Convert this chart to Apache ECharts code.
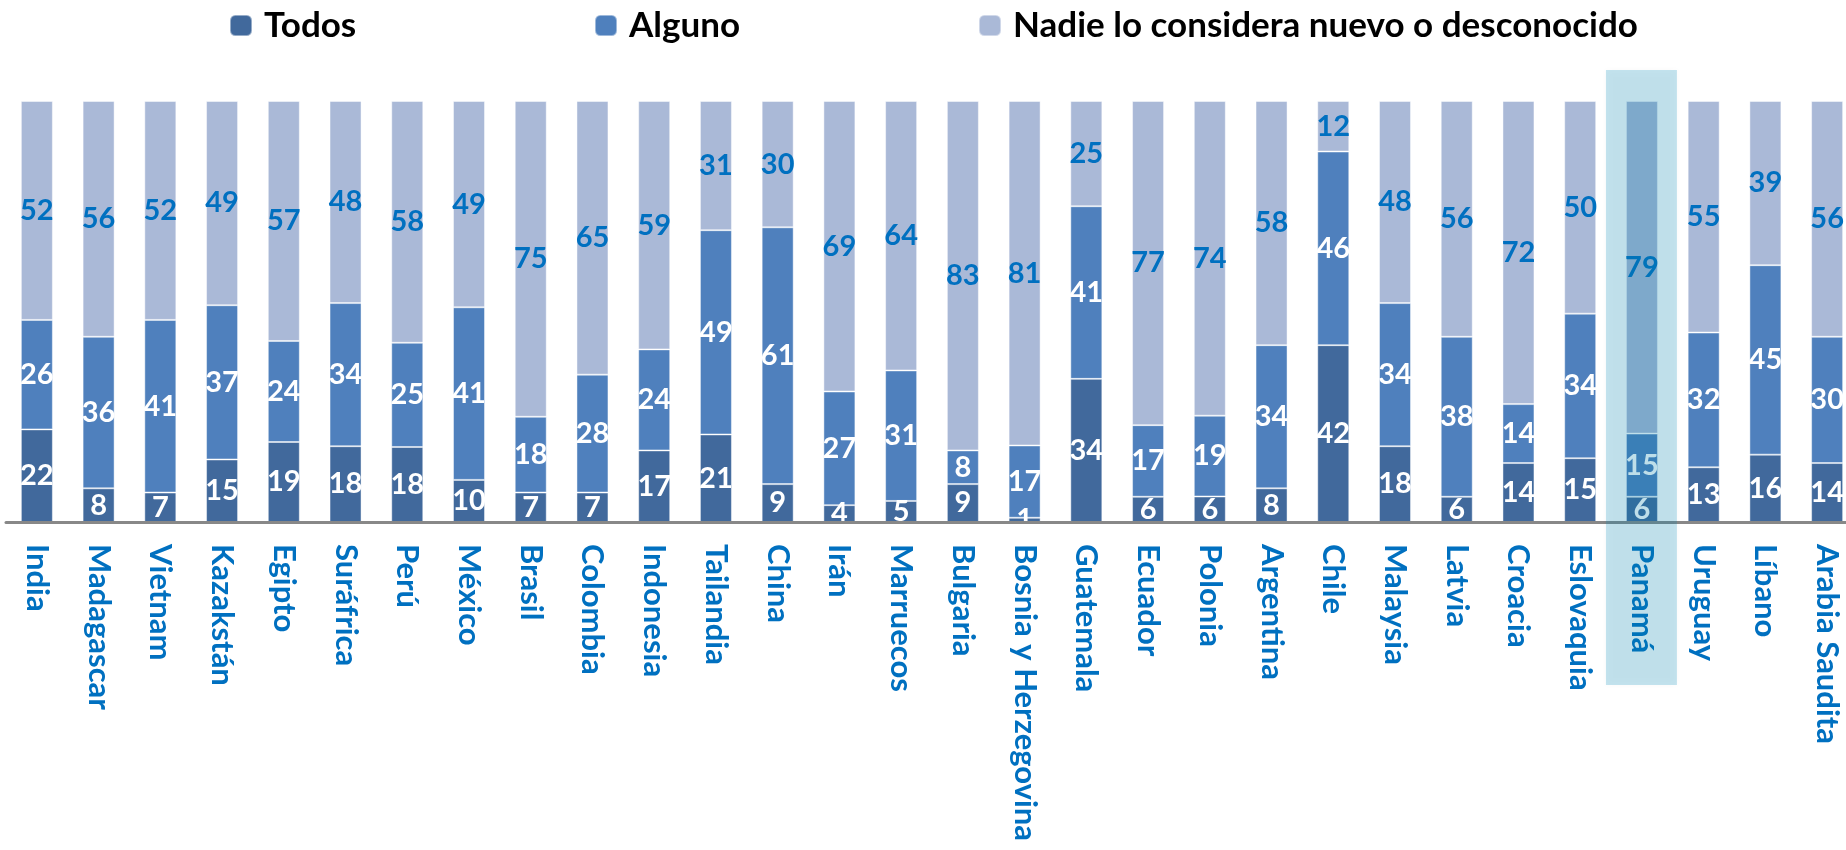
<!DOCTYPE html>
<html>
<head>
<meta charset="utf-8">
<script src="https://cdn.jsdelivr.net/npm/echarts@6/dist/echarts.min.js"></script>
<style>
  html, body { margin: 0; padding: 0; background: #fff; }
  #chart { width: 1846px; height: 850px; }
</style>
</head>
<body>
<div id="chart"></div>
<script>
const paises = ['India', 'Madagascar', 'Vietnam', 'Kazakstán', 'Egipto', 'Suráfrica', 'Perú', 'México',
  'Brasil', 'Colombia', 'Indonesia', 'Tailandia', 'China', 'Irán', 'Marruecos', 'Bulgaria',
  'Bosnia y Herzegovina', 'Guatemala', 'Ecuador', 'Polonia', 'Argentina', 'Chile', 'Malaysia',
  'Latvia', 'Croacia', 'Eslovaquia', 'Panamá', 'Uruguay', 'Líbano', 'Arabia Saudita']
const todos = [22, 8, 7, 15, 19, 18, 18, 10, 7, 7, 17, 21, 9, 4, 5, 9, 1, 34, 6, 6, 8, 42, 18, 6, 14, 15, 6, 13, 16, 14]
const alguno = [26, 36, 41, 37, 24, 34, 25, 41, 18, 28, 24, 49, 61, 27, 31, 8, 17, 41, 17, 19, 34, 46, 34, 38, 14, 34, 15, 32, 45, 30]
const nadie = [52, 56, 52, 49, 57, 48, 58, 49, 75, 65, 59, 31, 30, 69, 64, 83, 81, 25, 77, 74, 58, 12, 48, 56, 72, 50, 79, 55, 39, 56]
const destacado = 'Panamá'

// 100% apilado: cada barra se reparte según la suma de sus tres valores
const totales = paises.map((p, i) => todos[i] + alguno[i] + nadie[i])
const pct = (arr) => arr.map((v, i) => v / totales[i] * 100)

const fuente = "Lato, 'Open Sans', sans-serif"

const serie = (name, valores, color, labelColor) => ({
  name,
  type: 'bar',
  stack: 'total',
  barWidth: 32,
  data: pct(valores),
  itemStyle: { color, borderColor: 'rgba(255,255,255,0.45)', borderWidth: 1 },
  label: {
    show: true,
    position: 'inside',
    color: labelColor,
    fontFamily: fuente,
    fontWeight: 'bold',
    fontSize: 29,
    formatter: p => valores[p.dataIndex]
  }
})

const leyenda = (name, left) => ({
  data: [name],
  left,
  top: 3,
  itemWidth: 22,
  itemHeight: 21,
  textStyle: { fontFamily: fuente, fontWeight: 'bold', fontSize: 35, color: '#000', padding: [0, 0, 0, 7] }
})

const chart = echarts.init(document.getElementById('chart'))

const option = {
  animation: false,
  legend: [
    leyenda('Todos', 224),
    leyenda('Alguno', 589),
    leyenda('Nadie lo considera nuevo o desconocido', 973)
  ],
  grid: { left: 6, width: 1852, top: 101, bottom: 328, outerBoundsMode: 'none' },
  xAxis: {
    type: 'category',
    data: paises,
    z: 10,
    axisLine: { lineStyle: { color: '#888', width: 3 } },
    axisTick: { show: false },
    axisLabel: {
      interval: 0,
      rotate: -90,
      margin: 22,
      color: '#0070c0',
      fontFamily: fuente,
      fontWeight: 'bold',
      fontSize: 31
    }
  },
  yAxis: {
    type: 'value',
    min: 0,
    max: 100,
    show: false
  },
  series: [
    serie('Todos', todos, '#41699c', '#fff'),
    serie('Alguno', alguno, '#4f80bd', '#fff'),
    serie('Nadie lo considera nuevo o desconocido', nadie, '#aab9d7', '#0070c0')
  ]
}
chart.setOption(option)

// franja resaltada sobre Panamá, colocada con la escala del eje
const cx = chart.convertToPixel({ xAxisIndex: 0 }, destacado)
chart.setOption({
  graphic: [{
    type: 'rect',
    z: 100,
    shape: { x: cx - 36, y: 70, width: 71, height: 615 },
    style: {
      fill: 'rgba(0,138,185,0.23)',
      shadowBlur: 6,
      shadowColor: 'rgba(0,0,0,0.12)'
    }
  }]
})
</script>
</body>
</html>
